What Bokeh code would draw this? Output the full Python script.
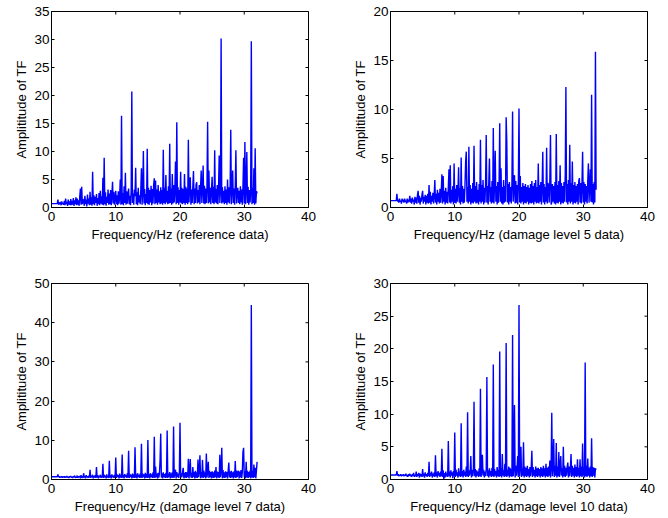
import numpy as np
from bokeh.plotting import figure
from bokeh.layouts import column, row
from bokeh.models import Range1d, FixedTicker
from bokeh.embed import file_html
from bokeh.resources import INLINE

# frequency bins are 0.1 Hz apart, 0 .. 32 Hz
FREQ_STEP = 0.1

# amplitude of TF, one row per Hz (k.0 .. k.9)
ref_amp = [
    0.7, 0.7, 0.7, 0.7, 0.7, 0.7, 0.7, 0.7, 0.7, 0.7,
    1.4, 0.5, 0.9, 0.6, 1.0, 0.4, 1.1, 0.6, 0.8, 0.5,
    1.2, 0.4, 1.6, 0.6, 1.0, 0.3, 1.4, 0.5, 1.1, 0.4,
    1.5, 0.4, 1.2, 0.5, 1.7, 0.3, 1.3, 0.6, 1.8, 0.4,
    1.6, 0.5, 1.3, 0.3, 2.0, 3.4, 0.5, 3.7, 0.6, 1.5,
    1.2, 0.3, 2.1, 0.6, 1.4, 0.2, 2.3, 0.7, 1.6, 0.4,
    2.8, 0.5, 1.8, 0.3, 6.4, 0.6, 2.2, 0.4, 1.9, 0.8,
    2.4, 0.3, 1.7, 0.6, 2.6, 0.4, 3.0, 0.7, 2.0, 0.5,
    5.3, 0.4, 8.9, 0.6, 2.7, 0.3, 1.9, 0.8, 3.2, 0.5,
    2.5, 0.6, 3.1, 0.4, 2.2, 4.6, 0.7, 2.8, 0.5, 1.8,
    3.0, 0.6, 2.2, 0.4, 2.9, 0.7, 1.8, 5.0, 0.5, 16.4,
    0.6, 2.6, 0.4, 3.8, 0.8, 6.2, 0.5, 2.9, 0.7, 2.3,
    3.4, 0.6, 2.1, 0.4, 3.0, 20.7, 0.8, 2.5, 0.5, 3.2,
    2.0, 7.1, 0.6, 2.7, 0.4, 3.5, 0.9, 2.2, 0.6, 3.1,
    7.0, 0.5, 2.8, 10.1, 0.7, 3.3, 0.4, 2.4, 0.8, 10.5,
    0.6, 3.5, 0.5, 3.1, 0.9, 3.9, 0.4, 3.3, 0.7, 4.1,
    5.2, 0.6, 4.8, 0.8, 3.2, 0.5, 4.0, 0.9, 2.9, 0.6,
    3.6, 0.7, 3.1, 0.5, 10.3, 0.8, 3.5, 0.6, 5.8, 0.9,
    3.0, 0.6, 3.8, 0.7, 11.4, 0.8, 3.4, 0.5, 6.0, 0.7,
    4.0, 0.9, 3.2, 8.2, 0.6, 15.2, 0.8, 3.6, 0.5, 3.1,
    0.9, 6.4, 0.7, 3.5, 0.6, 3.3, 0.8, 6.0, 0.5, 3.7,
    0.8, 3.4, 0.6, 12.1, 0.9, 3.9, 5.4, 0.5, 3.2, 0.8,
    3.8, 6.5, 0.6, 3.4, 0.8, 4.1, 4.5, 0.7, 3.1, 0.9,
    4.0, 0.6, 3.7, 6.6, 0.8, 3.3, 7.5, 0.7, 3.9, 0.6,
    3.4, 0.8, 3.6, 15.3, 0.7, 6.6, 0.9, 3.5, 0.6, 3.2,
    5.5, 0.8, 3.7, 0.6, 10.2, 0.9, 3.3, 0.7, 4.0, 0.6,
    3.5, 9.3, 0.8, 3.1, 30.2, 0.7, 3.6, 0.9, 3.0, 0.6,
    3.8, 0.8, 3.2, 0.5, 5.0, 0.9, 3.6, 0.7, 3.3, 13.9,
    0.6, 3.5, 6.6, 0.8, 3.4, 0.5, 3.9, 10.2, 0.7, 3.1,
    3.5, 0.8, 3.0, 0.6, 3.8, 0.9, 3.2, 0.5, 3.6, 8.9,
    0.7, 11.7, 0.6, 3.4, 9.9, 0.8, 3.7, 0.5, 3.1, 0.9,
    2.7, 29.7, 0.6, 3.5, 0.8, 7.0, 0.5, 10.6, 0.7, 2.9,
    2.5,
]

dmg5_amp = [
    0.7, 0.7, 0.7, 0.7, 0.7, 0.7, 0.7, 0.7, 0.7, 0.7,
    1.4, 0.6, 0.8, 0.5, 0.9, 0.6, 0.7, 0.4, 0.9, 0.6,
    0.8, 0.5, 0.9, 0.6, 0.7, 0.4, 0.9, 0.5, 0.8, 0.6,
    1.2, 0.5, 0.9, 0.4, 1.0, 0.6, 0.8, 0.3, 1.1, 0.5,
    1.0, 0.4, 1.3, 1.7, 0.5, 1.2, 0.3, 1.0, 0.6, 1.3,
    1.7, 0.4, 1.1, 0.6, 1.3, 0.3, 1.2, 0.5, 1.4, 0.4,
    2.3, 0.5, 1.6, 0.3, 1.2, 0.6, 1.5, 0.4, 1.3, 2.8,
    0.5, 1.4, 0.3, 1.8, 0.6, 1.5, 0.4, 1.9, 0.5, 1.6,
    3.4, 0.4, 3.2, 0.6, 1.7, 0.3, 2.0, 0.5, 1.6, 0.4,
    2.1, 3.9, 0.5, 4.3, 0.4, 1.8, 0.6, 2.2, 0.3, 4.5,
    0.5, 1.9, 0.4, 2.3, 0.6, 1.7, 4.1, 0.5, 2.0, 0.3,
    5.1, 0.6, 2.2, 0.4, 1.9, 0.5, 2.4, 4.8, 5.7, 0.6,
    2.1, 0.4, 6.2, 0.6, 2.3, 0.3, 1.9, 0.5, 2.5, 0.4,
    6.3, 0.6, 2.2, 0.4, 2.6, 0.5, 1.8, 0.3, 2.4, 0.6,
    6.9, 0.4, 2.3, 0.6, 2.8, 0.3, 2.0, 0.5, 2.5, 7.4,
    0.5, 2.2, 0.3, 2.6, 5.0, 0.6, 2.1, 0.4, 2.7, 0.5,
    8.1, 0.4, 2.4, 5.8, 0.6, 2.2, 0.3, 2.6, 0.5, 2.3,
    8.6, 0.6, 4.0, 0.4, 2.1, 0.3, 2.8, 0.5, 2.2, 0.6,
    9.2, 6.7, 0.5, 2.4, 0.3, 2.6, 0.6, 2.1, 0.4, 2.5,
    9.8, 0.6, 2.2, 3.3, 0.4, 2.7, 0.5, 2.3, 0.3, 2.6,
    10.1, 0.5, 3.2, 0.4, 2.1, 0.6, 2.5, 0.3, 2.2, 0.5,
    2.4, 0.4, 2.1, 0.6, 2.3, 0.3, 2.0, 0.5, 2.4, 0.4,
    2.7, 0.5, 2.2, 0.3, 2.5, 0.6, 2.8, 0.4, 2.1, 0.5,
    4.5, 0.4, 2.3, 0.6, 2.6, 0.3, 2.2, 5.7, 0.5, 2.4,
    0.3, 2.1, 0.6, 6.1, 0.4, 2.5, 2.3, 0.5, 2.7, 7.4,
    0.3, 0.5, 2.4, 0.6, 2.2, 0.4, 2.6, 0.3, 7.5, 0.5,
    2.3, 0.4, 2.7, 0.6, 4.3, 0.3, 2.5, 0.5, 2.2, 0.4,
    2.6, 0.6, 3.4, 12.3, 0.5, 2.4, 0.3, 2.8, 0.6, 6.4,
    0.4, 2.5, 0.6, 4.7, 0.3, 2.3, 0.5, 2.6, 0.4, 2.2,
    0.6, 2.4, 0.3, 2.7, 3.0, 0.5, 2.5, 0.4, 2.3, 5.7,
    0.5, 2.6, 0.3, 2.4, 0.6, 2.2, 0.4, 2.7, 4.5, 0.5,
    2.3, 3.9, 0.6, 11.5, 0.5, 2.4, 0.3, 2.6, 0.5, 15.9,
    1.8,
]

dmg7_amp = [
    0.7, 0.7, 0.7, 0.7, 0.7, 0.7, 0.7, 0.7, 0.7, 0.7,
    1.3, 0.6, 0.8, 0.5, 0.7, 0.6, 0.8, 0.5, 0.7, 0.6,
    0.8, 0.5, 0.7, 0.6, 0.9, 0.5, 0.7, 0.4, 0.8, 0.6,
    0.9, 0.5, 0.7, 0.4, 0.8, 0.6, 1.0, 0.4, 0.7, 0.5,
    1.0, 0.4, 0.8, 0.6, 0.9, 0.3, 1.1, 0.5, 0.8, 0.4,
    1.6, 0.5, 0.9, 0.3, 1.1, 0.6, 0.8, 0.4, 1.0, 0.5,
    2.5, 0.4, 1.0, 0.6, 1.2, 0.3, 0.9, 0.5, 1.1, 0.4,
    3.2, 0.5, 1.1, 0.3, 0.9, 0.6, 1.2, 0.4, 1.0, 0.5,
    4.0, 0.4, 1.2, 0.6, 1.0, 0.3, 1.3, 0.5, 0.9, 0.4,
    4.8, 0.5, 1.1, 0.3, 1.3, 0.6, 1.0, 0.4, 1.2, 0.5,
    5.6, 0.4, 1.3, 0.6, 1.1, 0.3, 1.5, 0.5, 1.2, 0.4,
    6.4, 0.5, 1.2, 0.3, 1.4, 0.6, 1.1, 0.4, 1.6, 0.5,
    7.3, 0.4, 1.4, 0.6, 1.2, 0.3, 1.5, 0.5, 1.3, 0.4,
    8.2, 0.5, 1.3, 0.3, 1.6, 0.6, 1.2, 0.4, 1.5, 0.5,
    9.1, 0.4, 1.5, 0.6, 1.3, 0.3, 1.7, 0.5, 1.4, 0.4,
    10.1, 0.5, 1.4, 0.3, 1.6, 0.6, 1.3, 0.4, 1.8, 0.5,
    10.9, 0.4, 3.3, 0.6, 1.5, 0.3, 1.7, 0.5, 1.4, 5.0,
    11.7, 0.5, 1.6, 0.3, 1.8, 0.6, 1.4, 0.4, 1.7, 0.5,
    12.5, 0.4, 1.5, 0.6, 1.9, 0.3, 1.6, 0.5, 1.8, 0.4,
    13.5, 0.5, 1.7, 2.5, 0.3, 1.9, 0.6, 1.5, 0.4, 1.8,
    14.5, 0.4, 1.6, 0.6, 2.0, 3.0, 0.3, 1.7, 0.5, 1.9,
    0.4, 1.8, 0.6, 5.3, 0.3, 2.0, 5.2, 0.5, 1.7, 0.4,
    3.2, 0.6, 1.9, 0.3, 2.2, 0.5, 1.8, 0.4, 5.1, 0.6,
    2.1, 6.2, 0.3, 1.9, 0.5, 5.0, 0.4, 2.3, 0.6, 1.8,
    0.3, 6.6, 0.5, 2.0, 4.5, 0.4, 2.2, 0.6, 1.9, 0.3,
    2.1, 0.5, 1.8, 0.4, 2.3, 0.6, 3.2, 0.3, 2.0, 0.5,
    1.9, 0.4, 6.3, 0.6, 2.2, 8.1, 0.3, 2.4, 0.5, 1.8,
    0.4, 2.1, 0.6, 1.9, 0.3, 2.3, 4.3, 0.5, 2.0, 0.4,
    2.2, 0.6, 1.8, 0.3, 2.1, 0.5, 4.7, 0.4, 2.3, 0.6,
    1.9, 2.2, 0.3, 2.0, 0.5, 2.4, 0.4, 1.8, 7.0, 8.1,
    0.6, 2.1, 0.3, 4.5, 0.5, 2.2, 0.4, 1.9, 0.6, 2.3,
    0.3, 44.5, 0.5, 2.2, 0.4, 3.8, 0.6, 3.0, 0.3, 2.4,
    4.5,
]

dmg10_amp = [
    0.7, 0.7, 0.7, 0.7, 0.7, 0.7, 0.7, 0.7, 0.7, 0.7,
    1.3, 0.6, 0.8, 0.5, 0.7, 0.6, 0.8, 0.5, 0.7, 0.6,
    0.8, 0.5, 0.7, 0.6, 0.9, 0.5, 0.7, 0.4, 0.8, 0.6,
    0.9, 0.5, 0.7, 0.4, 0.8, 0.6, 1.0, 0.4, 0.7, 0.5,
    1.2, 0.4, 0.8, 0.6, 1.0, 0.3, 0.9, 0.5, 0.8, 0.4,
    1.6, 0.5, 0.9, 0.3, 1.1, 0.6, 0.8, 0.4, 1.0, 0.5,
    2.7, 0.4, 1.0, 0.6, 1.2, 0.3, 0.9, 0.5, 1.1, 0.4,
    3.7, 0.5, 1.1, 0.3, 1.3, 0.6, 1.0, 0.4, 1.2, 0.5,
    4.7, 0.4, 1.4, 0.1, 1.0, 0.3, 1.2, 0.5, 0.9, 0.4,
    5.9, 0.5, 1.2, 0.3, 1.4, 0.6, 1.1, 0.2, 1.3, 0.5,
    7.2, 0.4, 1.5, 0.6, 1.1, 0.3, 1.7, 0.5, 1.2, 0.4,
    8.6, 0.5, 1.3, 0.3, 1.5, 0.6, 1.2, 0.4, 2.0, 0.5,
    10.3, 0.4, 1.4, 0.6, 1.2, 3.6, 0.3, 1.5, 0.5, 1.3,
    11.9, 0.5, 1.6, 0.3, 1.4, 0.6, 1.2, 0.4, 1.7, 0.5,
    13.9, 0.4, 1.3, 3.8, 0.6, 1.5, 0.3, 1.2, 0.5, 1.6,
    15.7, 0.5, 1.4, 0.3, 1.7, 0.6, 1.3, 0.4, 1.8, 0.5,
    17.6, 0.4, 1.6, 0.6, 1.3, 0.3, 1.9, 0.5, 1.5, 0.4,
    19.6, 0.5, 1.7, 0.3, 3.9, 0.6, 1.4, 0.4, 2.4, 0.5,
    20.9, 0.4, 1.5, 0.6, 2.0, 0.3, 1.8, 0.5, 1.6, 0.4,
    22.1, 0.5, 1.8, 11.4, 0.3, 2.1, 0.6, 1.7, 3.6, 0.4,
    26.7, 0.5, 1.9, 5.0, 0.4, 1.7, 0.6, 5.7, 0.3, 2.0,
    0.5, 1.8, 0.4, 2.1, 0.6, 1.6, 0.3, 1.9, 0.5, 1.7,
    4.4, 0.4, 1.9, 0.6, 1.5, 0.3, 2.0, 0.5, 1.7, 0.4,
    1.8, 0.6, 1.6, 0.3, 1.9, 0.5, 1.7, 0.4, 2.1, 0.6,
    1.7, 0.3, 2.4, 0.5, 1.8, 0.4, 2.0, 0.6, 2.9, 0.3,
    1.9, 10.2, 0.5, 1.8, 6.2, 0.4, 2.1, 0.6, 5.6, 0.3,
    2.0, 0.5, 4.2, 0.4, 1.9, 3.6, 0.6, 1.7, 0.3, 5.0,
    0.5, 2.1, 0.4, 1.8, 0.6, 1.9, 2.6, 0.3, 2.0, 0.5,
    1.7, 3.9, 0.4, 2.1, 0.6, 1.8, 0.3, 2.3, 0.5, 1.9,
    0.4, 3.1, 0.6, 1.8, 0.3, 3.1, 0.5, 2.0, 0.4, 5.5,
    0.6, 1.9, 0.3, 17.9, 0.5, 2.1, 0.4, 3.2, 0.6, 1.8,
    0.3, 2.0, 0.5, 6.3, 0.4, 1.9, 0.6, 1.8, 0.3, 1.7,
    1.5,
]

x_max = 40
x_ticks = [0, 10, 20, 30, 40]
y_ticks_ref = [0, 5, 10, 15, 20, 25, 30, 35]
y_ticks_dmg5 = [0, 5, 10, 15, 20]
y_ticks_dmg7 = [0, 10, 20, 30, 40, 50]
y_ticks_dmg10 = [0, 5, 10, 15, 20, 25, 30]

FONT = "Liberation Sans"


def style_axis(ax, ticks, label_standoff, axis_label_standoff):
    ax.ticker = FixedTicker(ticks=ticks)
    ax.major_tick_in = 3
    ax.major_tick_out = 0
    ax.minor_tick_line_color = None
    ax.axis_line_color = "black"
    ax.axis_line_width = 1
    ax.major_tick_line_color = "black"
    ax.major_tick_line_width = 1
    ax.major_label_text_font = FONT
    ax.major_label_text_font_size = "13.5px"
    ax.major_label_text_color = "black"
    ax.major_label_standoff = label_standoff
    ax.axis_label_text_font = FONT
    ax.axis_label_text_font_style = "normal"
    ax.axis_label_text_font_size = "13px"
    ax.axis_label_text_color = "black"
    ax.axis_label_standoff = axis_label_standoff


def make_panel(amp, y_max, y_ticks, x_label, width, height, left, right, top, bottom):
    freq = [round(i * FREQ_STEP, 1) for i in range(len(amp))]
    p = figure(width=width, height=height,
               x_range=Range1d(0, x_max), y_range=Range1d(0, y_max),
               output_backend="svg", toolbar_location=None,
               x_axis_label=x_label, y_axis_label="Amplititude of TF",
               min_border_left=left, min_border_right=right,
               min_border_top=top, min_border_bottom=bottom)
    p.line(freq, amp, line_color="#0000ff", line_width=1.4)
    p.grid.visible = False
    p.outline_line_color = "black"
    p.outline_line_width = 1
    p.outline_line_alpha = 1
    p.background_fill_color = "white"
    p.border_fill_color = "white"
    style_axis(p.xaxis[0], x_ticks, 4, 3)
    style_axis(p.yaxis[0], y_ticks, 2, 2)
    # MATLAB-style inward ticks on the top and right edges (half clipped by the frame)
    p.scatter([x_max] * len(y_ticks), y_ticks, marker="dash", size=6,
              line_color="black", line_width=1)
    p.scatter(x_ticks, [y_max] * len(x_ticks), marker="dash", size=6, angle=np.pi / 2,
              line_color="black", line_width=1)
    return p


p1 = make_panel(ref_amp, 35, y_ticks_ref, "Frequency/Hz (reference data)",
                347, 272, 51, 39, 11, 65)
p2 = make_panel(dmg5_amp, 20, y_ticks_dmg5, "Frequency/Hz (damage level 5 data)",
                321, 272, 43, 21, 11, 65)
p3 = make_panel(dmg7_amp, 50, y_ticks_dmg7, "Frequency/Hz (damage level 7 data)",
                347, 246, 51, 39, 11, 39)
p4 = make_panel(dmg10_amp, 30, y_ticks_dmg10, "Frequency/Hz (damage level 10 data)",
                321, 246, 43, 21, 11, 39)

layout = column(row(p1, p2), row(p3, p4))

with open("out.html", "w") as f:
    f.write(file_html(layout, INLINE))
